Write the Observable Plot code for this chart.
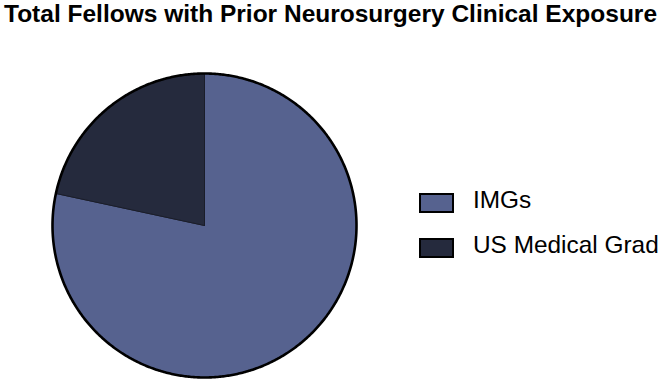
<!DOCTYPE html>
<html>
<head>
<meta charset="utf-8">
<script src="https://cdn.jsdelivr.net/npm/d3@7"></script>
<script src="https://cdn.jsdelivr.net/npm/@observablehq/plot@0.6"></script>
<style>
  html, body { margin: 0; padding: 0; background: #fff; }
  #wrap { position: relative; width: 661px; height: 382px; overflow: hidden; font-family: "Liberation Sans", Arial, sans-serif; }
  #title { position: absolute; left: 0; top: 0; width: 661px; height: 40px; text-align: center; font-weight: bold; font-size: 24.5px; line-height: 28px; color: #000; white-space: nowrap; }
  #chart { position: absolute; left: 0; top: 40px; }
  #legend { position: absolute; left: 419px; top: 189px; }
  .item { position: relative; height: 45px; }
  .sw { position: absolute; left: 0; top: 4px; width: 31px; height: 16px; border: 2px solid #000; }
  .lab { position: absolute; left: 54px; top: -3px; font-size: 24.4px; line-height: 28px; color: #000; white-space: nowrap; }
</style>
</head>
<body>
<div id="wrap">
  <div id="title"></div>
  <div id="chart"></div>
  <div id="legend"></div>
</div>
<script>
const titleText = "Total Fellows with Prior Neurosurgery Clinical Exposure";
const categories = ["IMGs", "US Medical Grad"];
const counts = [29, 8];
const colors = ["#56628f", "#252a3d"];

document.getElementById("title").textContent = titleText;

// Build wedge outlines from the pie layout (angles from data)
const arcs = d3.pie().sort(null)(counts);
const wedgePts = [];
arcs.forEach((a, i) => {
  const label = categories[i];
  wedgePts.push({label, x: 0, y: 0});
  const n = Math.max(2, Math.ceil((a.endAngle - a.startAngle) / 0.01));
  for (let k = 0; k <= n; k++) {
    const t = a.startAngle + (a.endAngle - a.startAngle) * k / n;
    wedgePts.push({label, x: Math.sin(t), y: Math.cos(t)});
  }
  wedgePts.push({label, x: 0, y: 0});
});
const ring = d3.range(0, 721).map(k => {
  const t = k / 720 * 2 * Math.PI;
  return {x: Math.sin(t), y: Math.cos(t)};
});

const cx = 204, cy = 185, r = 152;
const plot = Plot.plot({
  width: 661,
  height: 342,
  margin: 0,
  x: {domain: [-1, 1], range: [cx - r, cx + r], axis: null},
  y: {domain: [-1, 1], range: [cy + r, cy - r], axis: null},
  color: {domain: categories, range: colors},
  marks: [
    Plot.line(wedgePts, {x: "x", y: "y", z: "label", fill: "label", stroke: "#1a1d2a", strokeWidth: 1, strokeLinejoin: "round"}),
    Plot.line(ring, {x: "x", y: "y", stroke: "#000", strokeWidth: 2.6})
  ]
});
document.getElementById("chart").appendChild(plot);

const legend = document.getElementById("legend");
categories.forEach((c, i) => {
  const item = document.createElement("div");
  item.className = "item";
  const sw = document.createElement("div");
  sw.className = "sw";
  sw.style.background = colors[i];
  const lab = document.createElement("div");
  lab.className = "lab";
  lab.textContent = c;
  item.appendChild(sw);
  item.appendChild(lab);
  legend.appendChild(item);
});
</script>
</body>
</html>
